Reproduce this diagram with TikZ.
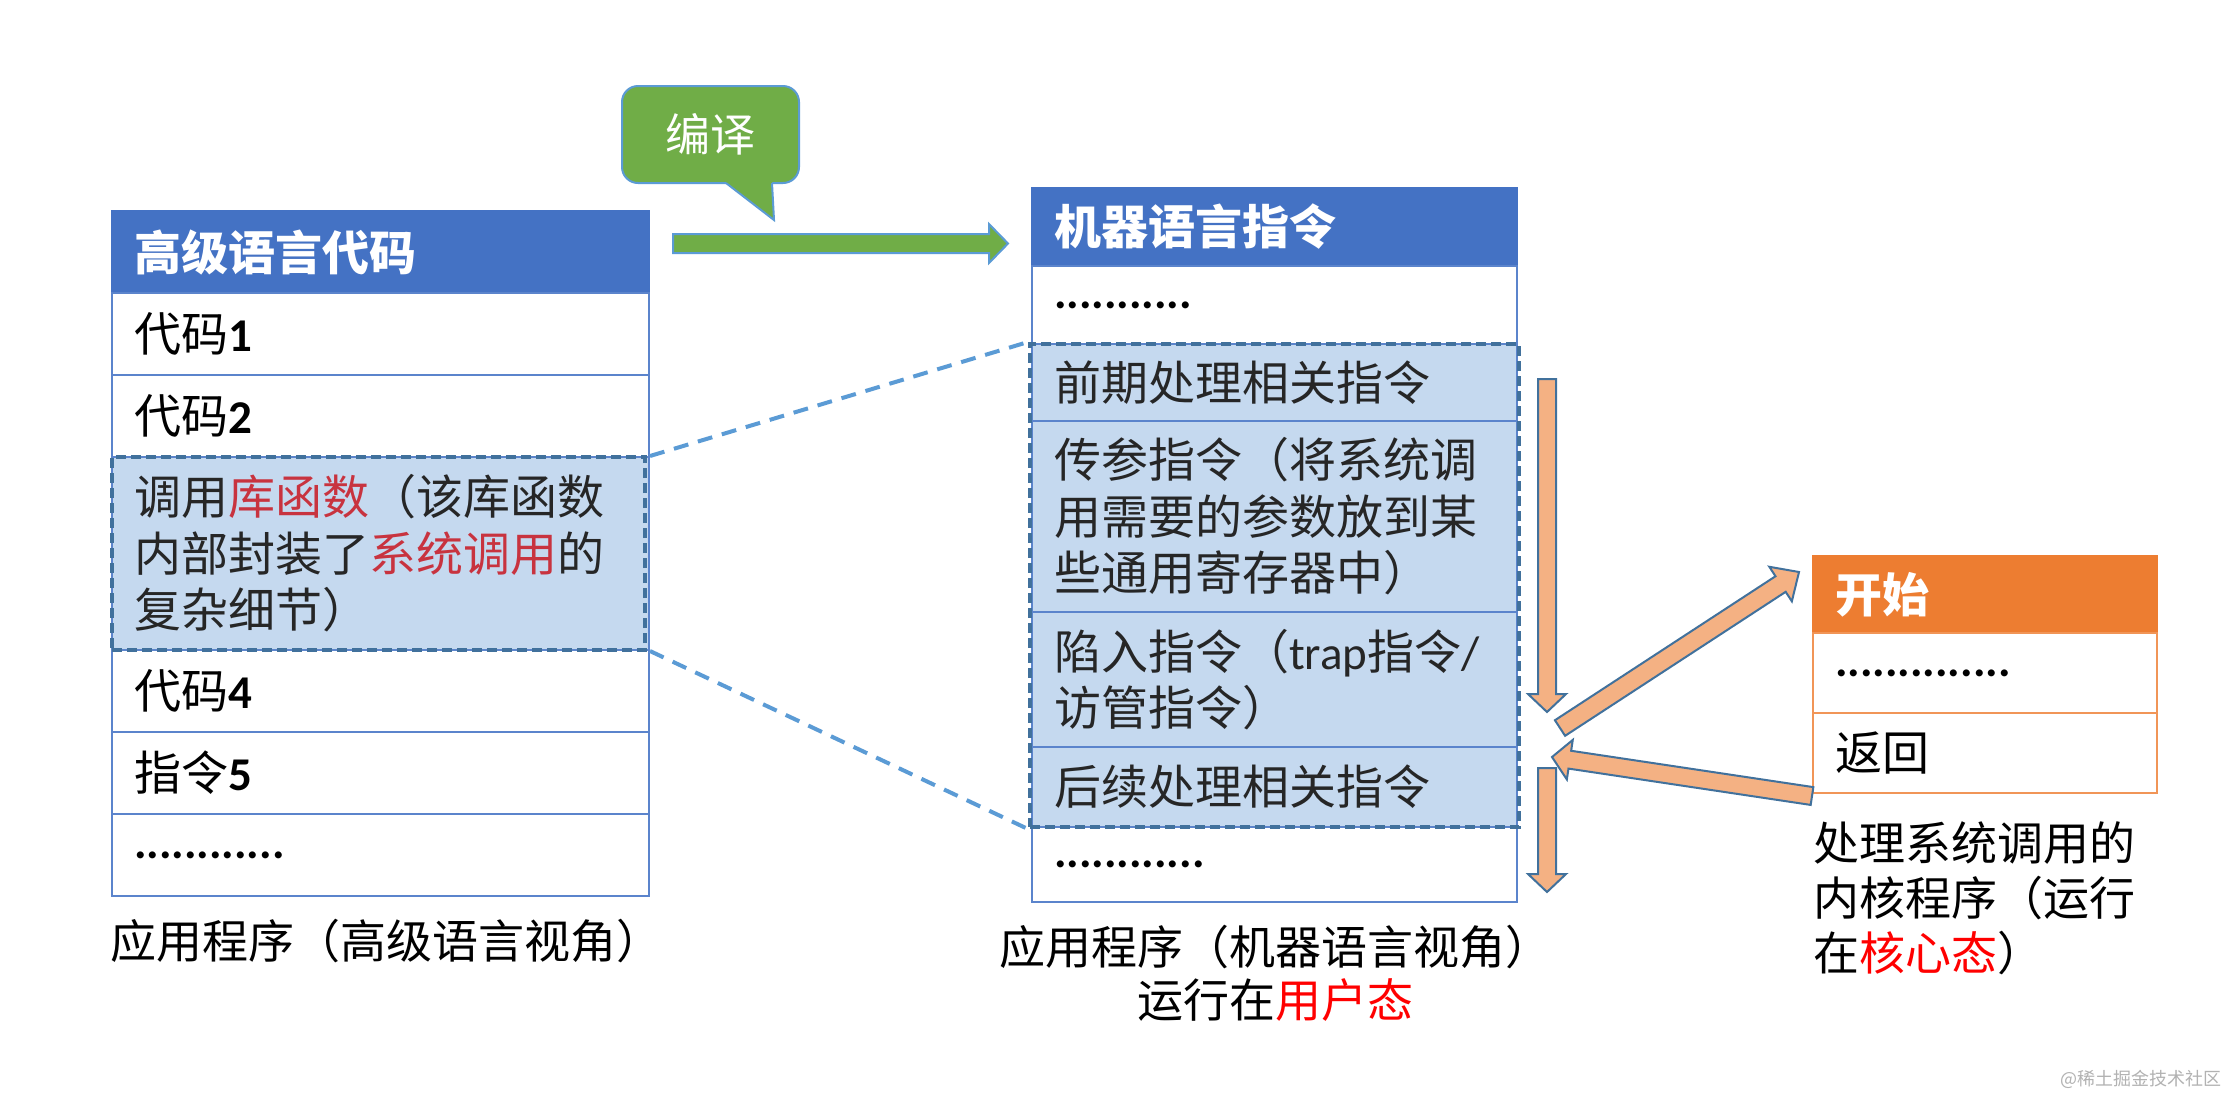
\documentclass[tikz,border=0pt]{standalone}
\usepackage{fontspec}
\setmainfont{Noto Sans CJK SC}
\newfontfamily\lat{Carlito}
\usetikzlibrary{calc}
\definecolor{hdrblue}{HTML}{4472C4}
\definecolor{bordblue}{HTML}{5B84CC}
\definecolor{hlfill}{HTML}{C5D9EF}
\definecolor{hldash}{HTML}{41719C}
\definecolor{conn}{HTML}{5B9BD5}
\definecolor{orhdr}{HTML}{ED7D31}
\definecolor{orline}{HTML}{F19557}
\definecolor{orfill}{HTML}{F4B183}
\definecolor{arrline}{HTML}{41719C}
\definecolor{grfill}{HTML}{70AD47}
\definecolor{libred}{HTML}{C8333F}
\definecolor{darktext}{HTML}{262626}
\newcommand\myfs{\fontsize{23.5}{28.25}\selectfont}
\newcommand\capfs{\fontsize{23}{27.5}\selectfont}
\newcommand\blkarrow[6]{%
  \coordinate (hb) at ($(#3)!#6!(#2)$);
  \filldraw[#1] ($(#2)!#4!90:(#3)$) -- ($(hb)!#4!90:(#3)$) -- ($(hb)!#5!90:(#3)$) -- (#3)
    -- ($(hb)!#5!-90:(#3)$) -- ($(hb)!#4!-90:(#3)$) -- ($(#2)!#4!-90:(#3)$) -- cycle;}
\begin{document}
\begin{tikzpicture}[x=0.5pt,y=-0.5pt,
  row/.style={draw=bordblue, line width=1pt, inner xsep=11pt, inner ysep=0pt, align=left, font=\myfs, text=black},
  lrow/.style={row, minimum width=268.5pt, text width=246.5pt, minimum height=41pt},
  mrow/.style={row, minimum width=242.5pt, text width=220.5pt},
  rrow/.style={row, draw=orline, minimum width=172pt, text width=150pt, minimum height=40pt},
  hdr/.style={fill=hdrblue, draw=hdrblue, text=white, font=\myfs\bfseries},
  hl/.style={fill=hlfill, text=darktext},
  hlbox/.style={draw=hldash, line width=2pt, dash pattern=on 5pt off 2.5pt, inner sep=0pt},
  dconn/.style={draw=conn, line width=2pt, dash pattern=on 7.5pt off 5pt},
  orarrow/.style={fill=orfill, draw=arrline, line width=1pt},
  grarrow/.style={fill=grfill, draw=conn, line width=1pt},
  captext/.style={inner sep=0pt, font=\capfs, text=black}]
\useasboundingbox (0,0) rectangle (2226,1094);
\fill[white] (0,0) rectangle (2226,1094);

% left box
\node[lrow,hdr] (lh) at (380.5,252) {高级语言代码};
\node[lrow] (l1) at (380.5,334) {代码{\lat\bfseries 1}};
\node[lrow] (l2) at (380.5,416) {代码{\lat\bfseries 2}};
\node[lrow,hl,minimum height=96.5pt] (l3) at (380.5,553.5) {调用\textcolor{libred}{库函数}（该库函数\\内部封装了\textcolor{libred}{系统调用}的\\复杂细节）};
\node[lrow] (l4) at (380.5,691) {代码{\lat\bfseries 4}};
\node[lrow] (l5) at (380.5,773) {指令{\lat\bfseries 5}};
\node[lrow] (l6) at (380.5,855) {{\lat\bfseries ............}};
\node[hlbox, minimum width=266.5pt, minimum height=96.5pt] (lhl) at (378.5,553.5) {};

% middle box
\node[mrow,hdr,minimum height=39pt] (mh) at (1274.5,227) {机器语言指令};
\node[mrow,minimum height=39pt] (m1) at (1274.5,305) {{\lat\bfseries ...........}};
\node[mrow,hl,minimum height=38.5pt] (m2) at (1274.5,382.5) {前期处理相关指令};
\node[mrow,hl,minimum height=95.5pt] (m3) at (1274.5,516.5) {传参指令（将系统调\\用需要的参数放到某\\些通用寄存器中）};
\node[mrow,hl,minimum height=67.5pt] (m4) at (1274.5,679.5) {陷入指令（{\lat trap}指令{\lat /}\\访管指令）};
\node[mrow,hl,minimum height=40pt] (m5) at (1274.5,787) {后续处理相关指令};
\node[mrow,minimum height=37.5pt] (m6) at (1274.5,864.5) {{\lat\bfseries ............}};
\node[hlbox, minimum width=244.5pt, minimum height=241.5pt] (mhl) at (1274.5,585.5) {};

% right box
\node[rrow,fill=orhdr,draw=orhdr,text=white,font=\myfs\bfseries,minimum height=38.5pt] (rh) at (1985,594.5) {开始};
\node[rrow] (r1) at (1985,673) {{\lat\bfseries ..............}};
\node[rrow] (r2) at (1985,753) {返回};

% dashed zoom connectors
\draw[dconn] (l3.north east) -- (mhl.north west);
\draw[dconn] (l3.south east) -- (mhl.south west);

% bubble
\node[fill=grfill, draw=conn, line width=1pt, rounded corners=8pt, minimum width=88.5pt, minimum height=48.5pt, inner sep=0pt, text=white, font=\fontsize{22.5}{26}\selectfont] (bub) at (710.5,134.5) {编译};
\coordinate (t1) at (726,183);
\coordinate (t2) at (772,183);
\coordinate (tt) at (774,220);
\fill[grfill] (726,179) -- (t1) -- (tt) -- (t2) -- (772,179) -- cycle;
\draw[conn, line width=1pt] (t1) -- (tt) -- (t2);

% green compile arrow
\coordinate (ga) at (673,243.5);
\coordinate (gb) at (1008,243.5);
\blkarrow{grarrow}{ga}{gb}{4.75pt}{9.75pt}{9.5pt}

% orange flow arrows
\coordinate (d1a) at (1547,379);
\coordinate (d1b) at (1547,712);
\blkarrow{orarrow}{d1a}{d1b}{4.5pt}{9.5pt}{9pt}
\coordinate (d2a) at (1547,768);
\coordinate (d2b) at (1547,892);
\blkarrow{orarrow}{d2a}{d2b}{4.5pt}{9.5pt}{9pt}
\coordinate (ua) at (1560,728);
\coordinate (ub) at (1799,572);
\blkarrow{orarrow}{ua}{ub}{4.65pt}{10.3pt}{11pt}
\coordinate (ra) at (1812,796);
\coordinate (rb) at (1552,757);
\blkarrow{orarrow}{ra}{rb}{4.5pt}{10pt}{9pt}

% captions
\node[captext, anchor=west] (lcap) at (110,941) {应用程序（高级语言视角）};
\node[captext, align=center, font=\fontsize{23}{26.5}\selectfont] (mcap) at (1275,973.5) {应用程序（机器语言视角）\\运行在\textcolor{red}{用户态}};
\node[captext, anchor=west, align=left] (rcap) at (1813,898) {处理系统调用的\\内核程序（运行\\在\textcolor{red}{核心态}）};
\node[inner sep=0pt, anchor=east, text=black!30, font=\fontsize{9}{10}\selectfont] (wm) at (2222,1079) {@稀土掘金技术社区};
\end{tikzpicture}
\end{document}
